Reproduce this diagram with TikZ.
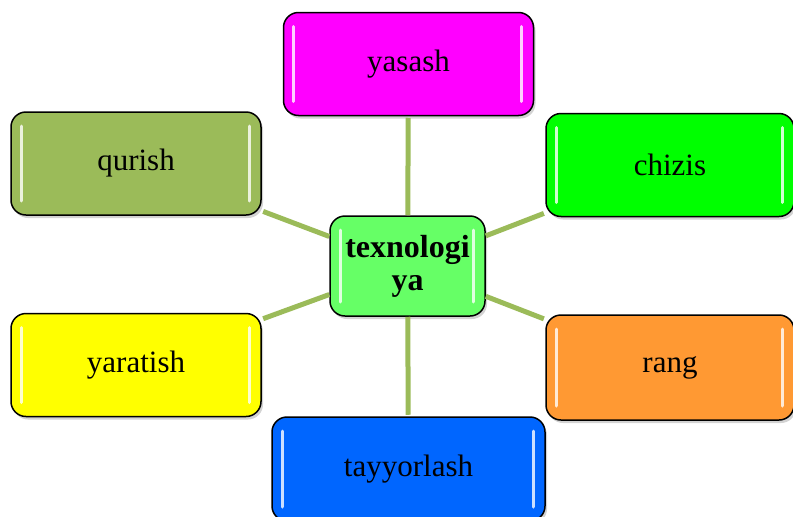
\documentclass[tikz,border=0pt]{standalone}
\usepackage{fontspec}
\setmainfont{Liberation Serif}
\usetikzlibrary{shadows}

\definecolor{olive}{HTML}{9BBB59}
\definecolor{magenta}{HTML}{FF00FF}
\definecolor{lime}{HTML}{00FF00}
\definecolor{lightlime}{HTML}{66FF66}
\definecolor{yellow}{HTML}{FFFF00}
\definecolor{orange}{HTML}{FF9933}
\definecolor{blue}{HTML}{0066FF}

\tikzset{
  box/.style={draw=black, line width=1.5pt, rounded corners=15pt,
    minimum width=250pt, minimum height=103pt, inner sep=0pt,
    font=\fontsize{31}{33}\selectfont, align=center,
    drop shadow={shadow xshift=2pt, shadow yshift=-3pt, opacity=0.35},
    path picture={
      \draw[white, opacity=0.8, line width=3pt, line cap=round]
        ([shift={(10pt,-14pt)}]path picture bounding box.north west) --
        ([shift={(10pt,14pt)}]path picture bounding box.south west)
        ([shift={(-12pt,-14pt)}]path picture bounding box.north east) --
        ([shift={(-12pt,14pt)}]path picture bounding box.south east);
    }},
  link/.style={draw=olive, line width=5pt}
}

\begin{document}
\begin{tikzpicture}[x=1pt, y=-1pt]
  \useasboundingbox (0,0) rectangle (793,517);

  \node[box, fill=lightlime, minimum width=155pt, minimum height=100pt,
    font=\fontsize{32}{33}\selectfont\bfseries] (markaz) at (407.5,266) {texnologi\\ya};

  \node[box, fill=magenta] (yasash) at (408.5,64) {yasash};
  \node[box, fill=olive] (qurish) at (136,163.5) {qurish};
  \node[box, fill=lime, minimum width=248pt] (chizis) at (670,165) {chizis};
  \node[box, fill=yellow] (yaratish) at (136,365) {yaratish};
  \node[box, fill=orange, minimum width=248pt, minimum height=105pt] (rang) at (670,367.5) {rang};
  \node[box, fill=blue, minimum width=273pt, minimum height=104pt] (tayyorlash) at (408.5,469) {tayyorlash};

  \foreach \n in {yasash, qurish, chizis, yaratish, rang, tayyorlash}
    \draw[link, shorten >=1.5pt] (markaz) -- (\n);
\end{tikzpicture}
\end{document}
